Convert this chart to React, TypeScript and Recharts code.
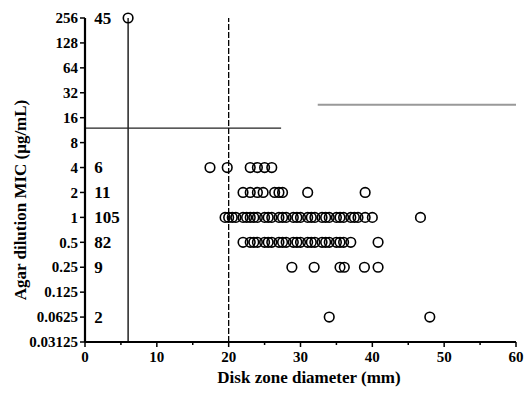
import { ScatterChart, Scatter, XAxis, YAxis, ReferenceLine, Label } from 'recharts';

// MIC levels (µg/mL) and the isolate count printed on each row
const micLevels = [256, 4, 2, 1, 0.5, 0.25, 0.0625];
const rowCounts = ['45', '6', '11', '105', '82', '9', '2'];

// disk zone diameters (mm)
const zonesAt256 = [6];
const zonesAt4 = [17.4, 19.8, 23, 24, 25, 26];
const zonesAt2 = [22, 23, 24, 24.8, 26.4, 27, 27.5, 31, 39];
const zonesAt1 = [19.5, 20, 20.5, 21, 22, 22.5, 23, 23.5, 24, 25, 25.5, 26, 27, 27.5, 28, 29, 29.5, 30, 31, 31.5, 32, 33, 33.5, 34, 35, 35.5, 36, 37, 37.5, 38, 39, 40, 46.7];
const zonesAt05 = [22, 23, 23.5, 24, 25, 25.5, 26, 27, 27.5, 28, 29, 29.5, 30, 31, 31.5, 32, 33, 33.5, 34, 35, 35.5, 36, 37, 40.8];
const zonesAt025 = [28.8, 31.9, 35.5, 36.1, 38.9, 40.8];
const zonesAt00625 = [34, 48];

const yTicks = [0.03125, 0.0625, 0.125, 0.25, 0.5, 1, 2, 4, 8, 16, 32, 64, 128, 256];
const xTicks = [0, 5, 10, 15, 20, 25, 30, 35, 40, 45, 50, 55, 60];

const zoneRows = [zonesAt256, zonesAt4, zonesAt2, zonesAt1, zonesAt05, zonesAt025, zonesAt00625];
const points = zoneRows.flatMap((zones, i) => zones.map((x) => ({ x, y: micLevels[i] })));
const countLabels = micLevels.map((y, i) => ({ x: 1.3, y, label: rowCounts[i] }));

const font = '"Liberation Serif", "Times New Roman", serif';

const XTick = (props: any) => {
  const { x, y, payload } = props;
  const major = payload.value % 10 === 0;
  return (
    <g>
      <line x1={x} x2={x} y1={y} y2={y + (major ? 5 : 3)} stroke="#000" strokeWidth={1.5} />
      {major && (
        <text x={x} y={y + 20} textAnchor="middle" fontFamily={font} fontWeight="bold" fontSize={15} fill="#000">
          {payload.value}
        </text>
      )}
    </g>
  );
};

const YTick = (props: any) => {
  const { x, y, payload } = props;
  return (
    <g>
      <line x1={x} x2={x + 5} y1={y} y2={y} stroke="#000" strokeWidth={1.5} />
      <text x={x - 2} y={y} dy="0.35em" textAnchor="end" fontFamily={font} fontWeight="bold" fontSize={15} fill="#000">
        {payload.value}
      </text>
    </g>
  );
};

export default function App() {
  return (
    <div style={{ position: 'absolute', left: 0, top: 0 }}>
      <ScatterChart width={527} height={393} margin={{ top: 18, right: 11, bottom: 0, left: 0 }}>
        <XAxis
          type="number"
          dataKey="x"
          domain={[0, 60]}
          ticks={xTicks}
          interval={0}
          tickSize={0}
          tickMargin={0}
          tickLine={false}
          tick={<XTick />}
          height={51}
          stroke="#000"
          axisLine={{ stroke: '#000', strokeWidth: 2.2 }}
        >
          <Label
            content={() => (
              <text x={309} y={383} textAnchor="middle" fontFamily={font} fontWeight="bold" fontSize={17} fill="#000">
                Disk zone diameter (mm)
              </text>
            )}
          />
        </XAxis>
        <YAxis
          type="number"
          dataKey="y"
          scale="log"
          domain={[0.03125, 256]}
          ticks={yTicks}
          interval={0}
          width={85}
          tickSize={5}
          tickMargin={0}
          tickLine={false}
          tick={<YTick />}
          stroke="#000"
          axisLine={{ stroke: '#000', strokeWidth: 2.2 }}
        >
          <Label
            content={() => (
              <text transform="translate(26,200) rotate(-90)" textAnchor="middle" fontFamily={font} fontWeight="bold" fontSize={17} fill="#000">
                Agar dilution MIC (μg/mL)
              </text>
            )}
          />
        </YAxis>
        <ReferenceLine x={6} stroke="#000" strokeWidth={1.3} />
        <ReferenceLine x={20} stroke="#000" strokeWidth={1.3} strokeDasharray="6 2" />
        <ReferenceLine segment={[{ x: 0, y: 12 }, { x: 27.3, y: 12 }]} stroke="#222" strokeWidth={1.2} />
        <ReferenceLine segment={[{ x: 32.4, y: 23 }, { x: 60, y: 23 }]} stroke="#999" strokeWidth={2} />
        <Scatter
          data={points}
          isAnimationActive={false}
          shape={(p: any) => <circle cx={p.cx} cy={p.cy} r={4.8} fill="none" stroke="#000" strokeWidth={1.6} />}
        />
        <Scatter
          data={countLabels}
          isAnimationActive={false}
          shape={(p: any) => (
            <text x={p.cx} y={p.cy} dy="0.35em" textAnchor="start" fontFamily={font} fontWeight="bold" fontSize={17} fill="#000">
              {p.payload.label}
            </text>
          )}
        />
      </ScatterChart>
    </div>
  );
}
